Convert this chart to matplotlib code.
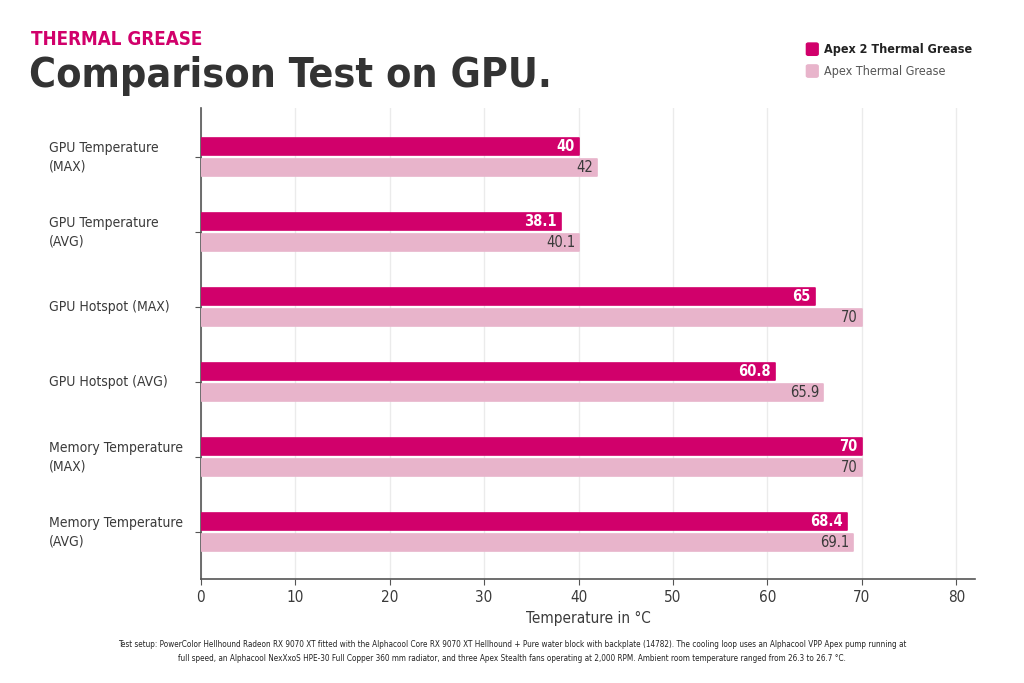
import matplotlib
matplotlib.use("Agg")
import matplotlib.pyplot as plt
import numpy as np
from matplotlib.patches import FancyBboxPatch

categories = ["GPU Temperature\n(MAX)", "GPU Temperature\n(AVG)", "GPU Hotspot (MAX)",
              "GPU Hotspot (AVG)", "Memory Temperature\n(MAX)", "Memory Temperature\n(AVG)"]
apex2 = [40, 38.1, 65, 60.8, 70, 68.4]
apex = [42, 40.1, 70, 65.9, 70, 69.1]
apex2_labels = ["40", "38.1", "65", "60.8", "70", "68.4"]
apex_labels = ["42", "40.1", "70", "65.9", "70", "69.1"]
series_names = ["Apex 2 Thermal Grease", "Apex Thermal Grease"]
xticks = [0, 10, 20, 30, 40, 50, 60, 70, 80]

C1 = "#D1006B"
C2 = "#E8B4CB"
DARK = "#3a3a3a"

plt.rcParams['font.family'] = ['Liberation Sans Narrow', 'DejaVu Sans']
plt.rcParams['font.stretch'] = 'condensed'
fig = plt.figure(figsize=(10.24, 6.83), dpi=100)
ax = fig.add_axes([0.196, 0.1523, 0.7564, 0.6896])

y = np.arange(len(categories))
h = 0.225
ax.barh(y - 0.145, apex2, height=h, color=C1, edgecolor=C1, linewidth=1.2, zorder=3,
        joinstyle="round")
ax.barh(y + 0.145, apex, height=h, color=C2, edgecolor=C2, linewidth=1.2, zorder=3,
        joinstyle="round")

for i in range(len(categories)):
    ax.text(apex2[i] - 0.45, y[i] - 0.145, apex2_labels[i], ha="right", va="center",
            color="white", fontsize=10.5, fontweight="bold", zorder=4)
    ax.text(apex[i] - 0.45, y[i] + 0.145, apex_labels[i], ha="right", va="center",
            color=DARK, fontsize=10.5, zorder=4)

ax.set_xlim(0, 82)
ax.set_ylim(5 + 47 / 75, -49 / 75)
ax.set_xticks(xticks)
ax.set_yticks(y)
ax.set_yticklabels([])
for i, c in enumerate(categories):
    ax.text(-16.1, y[i], c, ha="left", va="center", fontsize=10, color=DARK,
            linespacing=1.4)
ax.xaxis.grid(True, color="#ebebeb", linewidth=1, zorder=0)
ax.set_axisbelow(True)
for s in ["top", "right"]:
    ax.spines[s].set_visible(False)
ax.spines["left"].set_color("#555555")
ax.spines["bottom"].set_color("#555555")
ax.spines["left"].set_linewidth(1.2)
ax.spines["bottom"].set_linewidth(1.2)
ax.tick_params(axis="x", length=4, color="#555555", labelsize=11, labelcolor=DARK, pad=4)
ax.tick_params(axis="y", length=4, color="#555555")
ax.set_xlabel("Temperature in °C", fontsize=11, color=DARK, labelpad=4)

fig.text(0.030, 0.942, "THERMAL GREASE", fontsize=13.5, fontweight="bold", color=C1,
         ha="left", va="center")
fig.text(0.028, 0.888, "Comparison Test on GPU.", fontsize=29.5, fontweight="bold",
         color="#333333", ha="left", va="center")

for k, (name, col, wt) in enumerate(zip(series_names, [C1, C2], ["bold", "normal"])):
    yy = 0.928 - k * 0.032
    fig.patches.append(FancyBboxPatch((0.7875, yy - 0.009), 0.0115, 0.018,
                                      boxstyle="round,pad=0,rounding_size=0.002",
                                      transform=fig.transFigure, color=col))
    fig.text(0.805, yy, name, fontsize=9, fontweight=wt,
             color="#222222" if k == 0 else "#555555", ha="left", va="center")

fig.text(0.5, 0.046,
         "Test setup: PowerColor Hellhound Radeon RX 9070 XT fitted with the Alphacool Core RX 9070 XT Hellhound + Pure water block with backplate (14782). The cooling loop uses an Alphacool VPP Apex pump running at\n"
         "full speed, an Alphacool NexXxoS HPE-30 Full Copper 360 mm radiator, and three Apex Stealth fans operating at 2,000 RPM. Ambient room temperature ranged from 26.3 to 26.7 °C.",
         fontsize=5.85, color="#222222", ha="center", va="center", linespacing=1.7)

fig.savefig("out.png", dpi=100, facecolor="white")
